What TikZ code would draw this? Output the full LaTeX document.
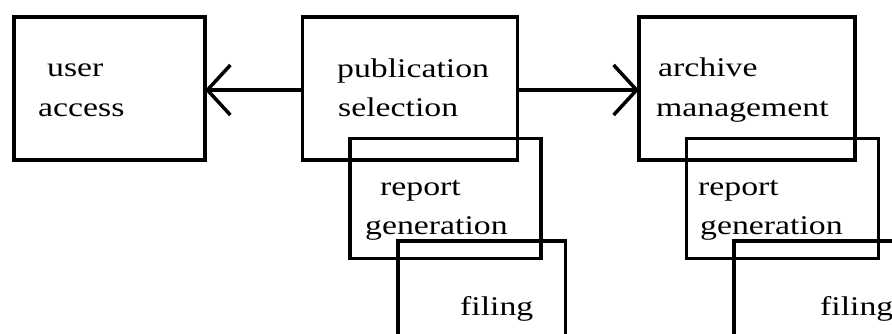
\documentclass[tikz,border=0pt]{standalone}
\usepackage{fontspec}
\setmainfont[FakeStretch=1.25]{Liberation Serif}
\usetikzlibrary{arrows.meta}
\begin{document}
\begin{tikzpicture}[x=1bp,y=-1bp,
  box/.style={draw, line width=3.5bp, rectangle, inner sep=0pt, outer sep=0pt, anchor=north west},
  txt/.style={anchor=base west, inner sep=0pt, font=\fontsize{27bp}{39bp}\selectfont},
  conn/.style={line width=3.5bp, -{Straight Barb[length=23bp,width=50bp,line width=3.5bp]}}]
\useasboundingbox (0,0) rectangle (892,333);
\clip (0,0) rectangle (892,333);

% process boxes (outlines only, they overlap)
\node[box, minimum width=191bp, minimum height=143bp] (user) at (14,17) {};
\node[box, minimum width=215bp, minimum height=143bp] (pub) at (302.5,17) {};
\node[box, minimum width=216bp, minimum height=143bp] (arch) at (639,17) {};
\node[box, minimum width=191bp, minimum height=120bp] (rep1) at (350,138.5) {};
\node[box, minimum width=192bp, minimum height=120bp] (rep2) at (686.5,138.5) {};
\node[box, minimum width=167.5bp, minimum height=140bp] (fil1) at (398,241) {};
\node[box, minimum width=180bp, minimum height=140bp] (fil2) at (734,241) {};

% labels
\node[txt] (tuser1) at (47,76) {user};
\node[txt] (tuser2) at (38,116) {access};
\node[txt] (tpub1) at (337,77) {publication};
\node[txt] (tpub2) at (338,116) {selection};
\node[txt] (tarch1) at (658,76) {archive};
\node[txt] (tarch2) at (656,116) {management};
\node[txt] (trep1a) at (380,195) {report};
\node[txt] (trep1b) at (365,234) {generation};
\node[txt] (trep2a) at (698,195) {report};
\node[txt] (trep2b) at (700,234) {generation};
\node[txt] (tfil1) at (460,315) {filing};
\node[txt] (tfil2) at (820,315) {filing};

% connectors
\draw[conn] ([yshift=-1.5bp]pub.west) -- ([yshift=-1.5bp]user.east);
\draw[conn] ([yshift=-1.5bp]pub.east) -- ([yshift=-1.5bp]arch.west);
\end{tikzpicture}
\end{document}
